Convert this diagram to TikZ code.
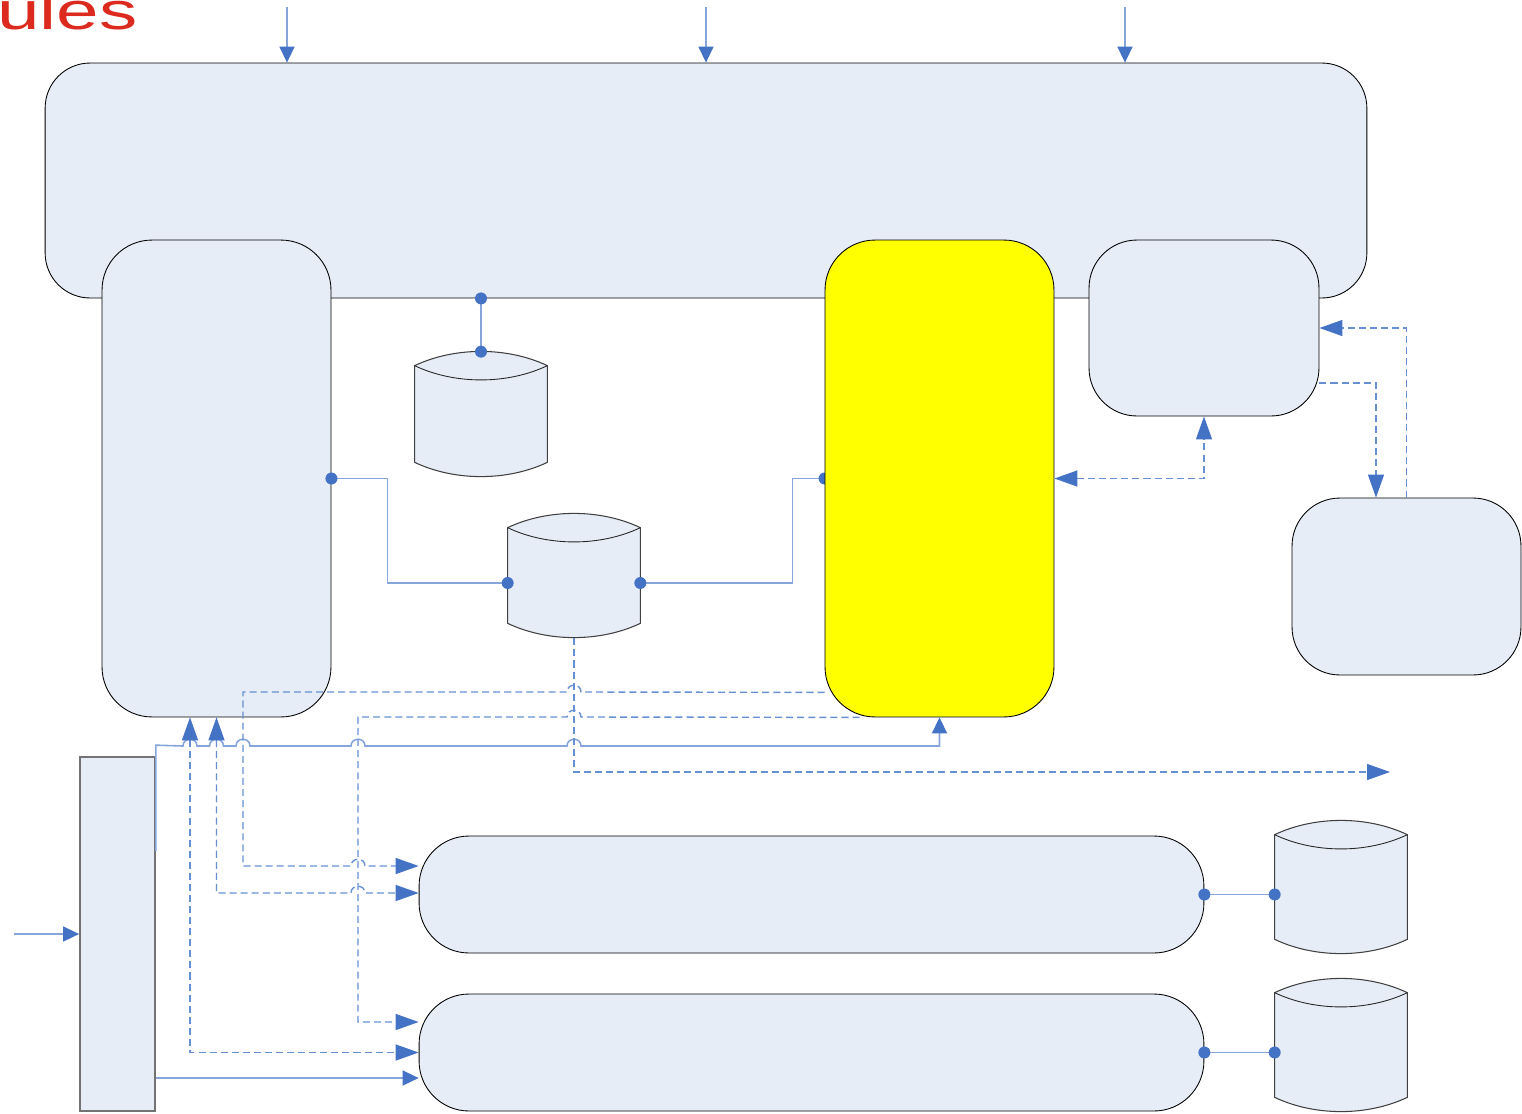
\documentclass[tikz,border=0pt]{standalone}
\usepackage{fontspec}
\setmainfont{Liberation Sans}
\usepackage{tikz}
\usetikzlibrary{calc, positioning, arrows.meta, backgrounds}
\definecolor{BoxFill}{HTML}{E6EDF7}
\definecolor{LinkBlue}{HTML}{86A5DB}
\definecolor{DashBlue}{HTML}{6690D2}
\definecolor{TipBlue}{HTML}{4472C4}
\definecolor{TitleRed}{HTML}{DC2A1E}
\definecolor{BoxYellow}{HTML}{FFFF00}
\tikzset{drum/.style={inner sep=0pt,minimum width=2.64cm}}
\newcommand{\drumshape}[1]{%
 \filldraw[fill=BoxFill,draw=black!75,line width=0.6pt]
  ($(#1.north west)+(0,14)$) .. controls +(40,-19) and +(-40,-19) .. ($(#1.north east)+(0,14)$)
  -- ($(#1.south east)+(0,-15)$) .. controls +(-40,19) and +(40,19) .. ($(#1.south west)+(0,-15)$) -- cycle;
 \draw[black!85,line width=0.5pt]
  ($(#1.north west)+(0,14)$) .. controls +(40,19) and +(-40,19) .. ($(#1.north east)+(0,14)$);}
\newcommand{\linehop}[2]{-- ({#1-7},#2) .. controls ({#1-7},{#2-9}) and ({#1+7},{#2-9}) .. ({#1+7},#2)}
\newcommand{\linehopback}[2]{-- ({#1+7},#2) .. controls ({#1+7},{#2-9}) and ({#1-7},{#2-9}) .. ({#1-7},#2)}
\begin{document}
\begin{tikzpicture}[x=0.02cm,y=-0.02cm,
                    round box/.style={draw=black,fill=BoxFill,line width=0.5pt,inner sep=0pt,rounded corners=1cm},
                    link/.style={LinkBlue,line width=0.9pt},
                    dash link/.style={DashBlue,line width=0.8pt,dash pattern=on 4pt off 2.3pt},
                    solid tip/.style={-{Triangle[length=0.32cm,width=0.3cm,color=TipBlue]}},
                    dash tip/.style={-{Triangle[length=0.46cm,width=0.32cm,color=TipBlue]}},
                    dash tips/.style={{Triangle[length=0.46cm,width=0.32cm,color=TipBlue]}-{Triangle[length=0.46cm,width=0.32cm,color=TipBlue]}},
                    dot/.style={fill=TipBlue}]
\useasboundingbox (0,0) rectangle (1522,1113);

\node[anchor=base west,inner sep=0pt,text=TitleRed,font=\fontsize{30}{34}\selectfont] (Title) at (-3,29) {\scalebox{1.45}[1]{ules}};

\node[round box,minimum width=26.44cm,minimum height=4.7cm,rounded corners=0.9cm] (TopBox) at (706,180.5) {};
\node[round box,minimum width=4.58cm,minimum height=9.54cm] (LeftBox) at (216.5,478.5) {};
\node[round box,fill=BoxYellow,minimum width=4.58cm,minimum height=9.54cm] (Yellow) at (939.5,478.5) {};
\node[round box,minimum width=4.6cm,minimum height=3.52cm,rounded corners=0.96cm] (SmallBox) at (1204,328) {};
\node[round box,minimum width=4.58cm,minimum height=3.54cm,rounded corners=0.96cm] (FarBox) at (1406.5,586.5) {};
\node[round box,minimum width=15.7cm,minimum height=2.34cm] (BoxA) at (811.5,894.5) {};
\node[round box,minimum width=15.7cm,minimum height=2.34cm] (BoxB) at (811.5,1052.5) {};
\node[draw=black!55,fill=BoxFill,line width=1pt,inner sep=0pt,minimum width=1.5cm,minimum height=7.08cm] (Gate) at (117.5,934) {};

\node[drum,minimum height=2.5cm] (Db1) at (481,414.5) {};
\node[drum,minimum height=2.48cm] (Db2) at (574,576) {};
\node[drum,minimum height=2.66cm] (Db3) at (1341,887.5) {};
\node[drum,minimum height=2.66cm] (Db4) at (1341,1045.5) {};
\drumshape{Db1}
\drumshape{Db2}
\drumshape{Db3}
\drumshape{Db4}

\foreach \dx [count=\i] in {-419,0,419}
   {\coordinate (In\i) at ($(TopBox.north)+(\dx,-56)$);
    \draw[link,solid tip] (In\i) -- ($(TopBox.north)+(\dx,0)$);}

\coordinate (TopTap) at ($(TopBox.south)+(-225,0)$);
\draw[link] (TopTap) -- (Db1.north);
\fill[dot] (TopTap) circle[radius=0.12cm] (Db1.north) circle[radius=0.12cm];

\draw[link] (LeftBox.east) -- ++(56,0) |- ($(Db2.west)+(0,7)$);
\fill[dot] (LeftBox.east) circle[radius=0.12cm] ($(Db2.west)+(0,7)$) circle[radius=0.12cm];

\begin{scope}[on background layer]
\draw[link] ($(Db2.east)+(0,7)$) -- ++(152,0) |- (Yellow.west);
\fill[dot] (Yellow.west) circle[radius=0.12cm];
\end{scope}
\fill[dot] ($(Db2.east)+(0,7)$) circle[radius=0.12cm];

\draw[link,solid tip] ($(Gate.north east)+(0,95)$) -- ($(Gate.north east)+(0,-11)$)
   \linehop{190}{746} \linehop{216.5}{746} \linehop{243}{746} \linehop{358}{746} \linehop{574}{746}
   -| (Yellow.south);

\draw[dash link,dash tip] ($(Yellow.south west)+(0,-25)$) \linehopback{574}{692} -- (243,692) -- (243,866)
   \linehop{358}{866} -- ($(BoxA.west)+(0,-28.5)$);
\draw[dash link,dash tip] ($(Yellow.south west)+(35,0)$) \linehopback{574}{717} -- (358,717) -- (358,1022)
   -- ($(BoxB.west)+(0,-30.5)$);
\coordinate (Out) at (1390,772);
\draw[dash link,dash tip] (Db2.south) |- (Out);

\draw[dash link,dash tips] (LeftBox.south) -- (216.5,893) \linehop{358}{893} -- ($(BoxA.west)+(0,-1.5)$);
\draw[dash link,dash tips] ($(LeftBox.south)+(-26.5,0)$) |- (BoxB.west);

\coordinate (BoxBLow) at ($(BoxB.west)+(0,25.5)$);
\draw[link,solid tip] (Gate.east |- BoxBLow) -- (BoxBLow);
\coordinate (Feed) at (14,934);
\draw[link,solid tip] (Feed) -- (Gate.west);

\draw[dash link,dash tips] (Yellow.east) -| (SmallBox.south);
\draw[dash link,dash tip] ($(SmallBox.east)+(0,55)$) -| ($(FarBox.north)+(-30.5,0)$);
\draw[dash link,dash tip] (FarBox.north) |- (SmallBox.east);

\draw[link] (BoxA.east) -- (BoxA.east -| Db3.west);
\fill[dot] (BoxA.east) circle[radius=0.12cm] (BoxA.east -| Db3.west) circle[radius=0.12cm];
\draw[link] (BoxB.east) -- (BoxB.east -| Db4.west);
\fill[dot] (BoxB.east) circle[radius=0.12cm] (BoxB.east -| Db4.west) circle[radius=0.12cm];
\end{tikzpicture}
\end{document}
